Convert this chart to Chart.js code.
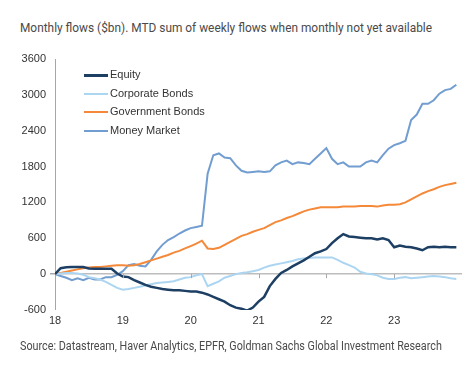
<!DOCTYPE html>
<html>
<head>
<meta charset="utf-8">
<script src="https://cdn.jsdelivr.net/npm/chart.js@4.4.1/dist/chart.umd.min.js"></script>
<style>
  body { margin: 0; background: #fff; }
  #wrap { position: relative; width: 470px; height: 366px; }
  #chart { position: absolute; left: 0; top: 0; }
  .txt { position: absolute; left: 20px; font-family: Roboto, sans-serif; color: #4a4a4a; white-space: nowrap; transform-origin: left center; }
  #title { top: 20px; font-size: 13px; }
  #source { top: 338px; font-size: 12.5px; }
  #legend { position: absolute; left: 84px; top: 66px; font-family: "Liberation Sans", Arial, sans-serif; font-size: 11px; color: #333; }
  #legend div { height: 18.5px; line-height: 16px; }
  #legend span { display: inline-block; width: 24px; height: 0; vertical-align: middle; margin-right: 2px; }
</style>
</head>
<body>
<div id="wrap">
  <div id="title" class="txt">Monthly flows ($bn). MTD sum of weekly flows when monthly not yet available</div>
  <canvas id="chart" width="470" height="366"></canvas>
  <div id="legend"></div>
  <div id="source" class="txt">Source: Datastream, Haver Analytics, EPFR, Goldman Sachs Global Investment Research</div>
</div>
<script>
// Flujos acumulados mensuales ($bn), ene-2018 a dic-2023
const startYear = 18;
const yearTicks = [18, 19, 20, 21, 22, 23];

const equity = [0, 100, 115, 120, 120, 120, 95, 90, 90, 90, 90, 10,
  -40, -50, -100, -140, -180, -210, -230, -250, -260, -270, -270, -280,
  -290, -290, -310, -340, -380, -420, -460, -520, -560, -580, -610, -560,
  -460, -380, -200, -80, 20, 70, 130, 180, 230, 290, 350, 380,
  420, 520, 600, 670, 630, 620, 610, 600, 600, 580, 600, 570,
  450, 480, 460, 450, 430, 400, 450, 460, 450, 460, 450, 450];

const corporateBonds = [0, 10, 20, 20, 10, -10, -50, -70, -90, -130, -180, -230,
  -260, -250, -230, -210, -190, -170, -150, -140, -130, -120, -90, -60,
  -50, -20, 0, -200, -160, -120, -60, -30, 0, 20, 30, 50,
  70, 110, 140, 160, 180, 200, 220, 250, 260, 270, 280, 280,
  280, 280, 240, 190, 150, 110, 40, 10, 0, -20, -60, -80,
  -80, -60, -50, -70, -60, -50, -40, -30, -40, -50, -70, -80];

const governmentBonds = [0, 20, 40, 60, 80, 100, 110, 120, 120, 130, 140, 150,
  150, 140, 150, 170, 200, 230, 260, 290, 320, 360, 390, 430,
  470, 510, 560, 430, 420, 440, 490, 540, 590, 640, 670, 710,
  740, 770, 820, 870, 900, 940, 970, 1010, 1050, 1080, 1100, 1120,
  1120, 1120, 1120, 1130, 1130, 1130, 1140, 1140, 1140, 1130, 1150, 1160,
  1160, 1170, 1200, 1250, 1300, 1350, 1390, 1420, 1460, 1490, 1510, 1530];

const moneyMarket = [0, -30, -60, -100, -70, -100, -60, -90, -90, -50, -50, -10,
  50, 150, 170, 140, 130, 240, 380, 490, 570, 620, 680, 730,
  770, 790, 810, 1680, 1990, 2020, 1950, 1940, 1820, 1730, 1700, 1710,
  1720, 1710, 1720, 1820, 1870, 1900, 1840, 1870, 1860, 1840, 1930, 2020,
  2110, 1930, 1840, 1870, 1800, 1800, 1800, 1870, 1900, 1870, 1990, 2100,
  2160, 2190, 2230, 2580, 2670, 2850, 2850, 2910, 3020, 3080, 3100, 3170];

const toPoints = arr => arr.map((v, i) => ({ x: startYear + i / 12, y: v }));

const series = [
  { label: 'Equity', data: equity, color: '#1d3f64', width: 2.5 },
  { label: 'Corporate Bonds', data: corporateBonds, color: '#acd5f2', width: 2 },
  { label: 'Government Bonds', data: governmentBonds, color: '#f5893a', width: 2 },
  { label: 'Money Market', data: moneyMarket, color: '#729dd0', width: 2 }
];

// marcas cortas del eje x sobre la linea de cero
const zeroTicks = {
  id: 'zeroTicks',
  afterDatasetsDraw(chart) {
    const { ctx, scales: { x, y } } = chart;
    const y0 = y.getPixelForValue(0);
    ctx.save();
    ctx.strokeStyle = '#a6a6a6';
    ctx.lineWidth = 1;
    yearTicks.slice(1).forEach(t => {
      const px = Math.round(x.getPixelForValue(t)) + 0.5;
      ctx.beginPath();
      ctx.moveTo(px, y0);
      ctx.lineTo(px, y0 + 4);
      ctx.stroke();
    });
    ctx.restore();
  }
};

Chart.defaults.font.family = '"Liberation Sans", Arial, sans-serif';
Chart.defaults.font.size = 11;
Chart.defaults.color = '#333';

const ctx = document.getElementById('chart').getContext('2d');
const chart = new Chart(ctx, {
  type: 'line',
  data: {
    datasets: series.map(s => ({
      label: s.label,
      data: toPoints(s.data),
      borderColor: s.color,
      backgroundColor: s.color,
      borderWidth: s.width,
      pointRadius: 0,
      tension: 0
    }))
  },
  options: {
    responsive: false,
    animation: false,
    layout: { padding: { left: 0, right: 8, top: 59, bottom: 36 } },
    plugins: { legend: { display: false }, tooltip: { enabled: false } },
    scales: {
      x: {
        type: 'linear',
        min: 18,
        max: 24,
        afterFit: s => { s.height = 20; },
        afterBuildTicks: s => { s.ticks = yearTicks.map(v => ({ value: v })); },
        ticks: { padding: 4, maxRotation: 0, callback: v => String(v) },
        grid: { display: false, drawTicks: false },
        border: { display: false }
      },
      y: {
        min: -600,
        max: 3600,
        afterFit: s => { s.width = 55; },
        ticks: { stepSize: 600, padding: 4, callback: v => String(v) },
        grid: {
          color: c => (c.tick && c.tick.value === 0 ? '#bdbdbd' : 'rgba(0,0,0,0)'),
          lineWidth: c => (c.tick && c.tick.value === 0 ? 1.5 : 0),
          tickColor: '#a6a6a6',
          tickLength: 5
        },
        border: { color: '#a6a6a6', width: 1 }
      }
    }
  },
  plugins: [zeroTicks]
});

document.getElementById('legend').innerHTML = series.map(s =>
  `<div><span style="border-top:${s.width + 0.5}px solid ${s.color}"></span>${s.label}</div>`
).join('');

// ajustar el ancho de los textos al de la referencia
const fitWidth = (id, target) => {
  const el = document.getElementById(id);
  el.style.transform = `scaleX(${target / el.offsetWidth})`;
};
fitWidth('title', 412);
fitWidth('source', 422);
</script>
</body>
</html>
